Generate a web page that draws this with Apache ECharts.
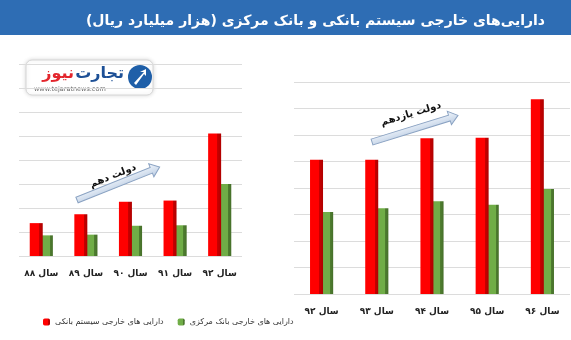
<!DOCTYPE html>
<html>
<head>
<meta charset="utf-8">
<script src="https://cdn.jsdelivr.net/npm/echarts@6/dist/echarts.min.js"></script>
<style>
html,body{margin:0;padding:0;background:#fff;}
#c{width:571px;height:340px;}
</style>
</head>
<body>
<div id="c" dir="rtl"></div>
<script>
// ---- data ----
const titleText = 'دارایی‌های خارجی سیستم بانکی و بانک مرکزی (هزار میلیارد ریال)';
const seriesBanking = 'دارایی های خارجی سیستم بانکی';
const seriesCentral = 'دارایی های خارجی بانک مرکزی';

// 10th government (دولت دهم)
const gov10Label = 'دولت دهم';
const gov10Years = ['سال ۸۸', 'سال ۸۹', 'سال ۹۰', 'سال ۹۱', 'سال ۹۲'];
const gov10Banking = [137, 174, 226, 231, 510];
const gov10Central = [86, 89, 126, 128, 300];

// 11th government (دولت یازدهم)
const gov11Label = 'دولت یازدهم';
const gov11Years = ['سال ۹۲', 'سال ۹۳', 'سال ۹۴', 'سال ۹۵', 'سال ۹۶'];
const gov11Banking = [507, 507, 588, 590, 735];
const gov11Central = [309, 324, 350, 337, 396];

const yMax = 800;
const yInterval = 100;

// ---- styles ----
const FONT = '"DejaVu Sans", "Noto Sans", sans-serif';
const redFill = new echarts.graphic.LinearGradient(0, 0, 1, 0, [
  {offset: 0, color: '#ff0000'}, {offset: 0.72, color: '#ff0000'},
  {offset: 0.72, color: '#c80000'}, {offset: 1, color: '#b00000'}]);
const greenFill = new echarts.graphic.LinearGradient(0, 0, 1, 0, [
  {offset: 0, color: '#70ad47'}, {offset: 0.75, color: '#70ad47'},
  {offset: 0.75, color: '#4f7f30'}, {offset: 1, color: '#466f2a'}]);

function xAxisFor(gridIndex, data) {
  return {
    type: 'category', gridIndex, data,
    axisLine: {show: false}, axisTick: {show: false},
    axisLabel: {interval: 0, color: '#222', fontSize: 9, fontWeight: 'bold', fontFamily: FONT, margin: 13}
  };
}
function yAxisFor(gridIndex) {
  return {
    type: 'value', gridIndex, min: 0, max: yMax, interval: yInterval,
    axisLabel: {show: false}, axisLine: {show: false}, axisTick: {show: false},
    splitLine: {lineStyle: {color: '#dcdcdc', width: 1}}
  };
}
function bars(name, data, idx, fill, z) {
  return {
    name, type: 'bar', data, xAxisIndex: idx, yAxisIndex: idx,
    barWidth: 13, barGap: '-22%', z,
    itemStyle: {color: fill},
    emphasis: {disabled: true}
  };
}

function arrow(x, y, len, rot) {
  return {
    type: 'polygon', x, y, rotation: rot, z: 20,
    shape: {points: [[0, -3], [len - 9, -3], [len - 9, -7], [len, 0], [len - 9, 7], [len - 9, 3], [0, 3]]},
    style: {
      fill: new echarts.graphic.LinearGradient(0, 0, 0, 1, [
        {offset: 0, color: '#f4f8fd'}, {offset: 1, color: '#b9cbe2'}]),
      stroke: '#8aa2c2', lineWidth: 1
    }
  };
}

const chart = echarts.init(document.getElementById('c'), null, {renderer: 'canvas'});
chart.setOption({
  animation: false,
  backgroundColor: '#ffffff',
  title: {
    text: titleText, right: 21, top: 9, z: 10,
    textStyle: {color: '#ffffff', fontSize: 14, fontWeight: 'bold', fontFamily: FONT}
  },
  legend: {
    left: 38, bottom: 9, itemWidth: 7, itemHeight: 7, itemGap: 14,
    data: [seriesBanking, seriesCentral],
    textStyle: {fontSize: 8, color: '#333', fontFamily: FONT}
  },
  grid: [
    {left: 19, width: 223, top: 64, height: 192},
    {left: 294, right: 1, top: 82, height: 212}
  ],
  xAxis: [xAxisFor(0, gov10Years), xAxisFor(1, gov11Years)],
  yAxis: [yAxisFor(0), yAxisFor(1)],
  series: [
    bars(seriesBanking, gov10Banking, 0, redFill, 3),
    bars(seriesCentral, gov10Central, 0, greenFill, 2),
    bars(seriesBanking, gov11Banking, 1, redFill, 3),
    bars(seriesCentral, gov11Central, 1, greenFill, 2)
  ],
  graphic: [
    {type: 'rect', x: 0, y: 0, z: 0, shape: {width: 571, height: 35}, style: {fill: '#2e6db4'}},
    // logo
    {
      type: 'group', x: 26, y: 60, z: 30, children: [
        {type: 'rect', shape: {x: 0, y: 0, width: 127, height: 35, r: 6},
         style: {fill: '#fff', stroke: '#d6d6d6', lineWidth: 1, shadowBlur: 4, shadowColor: 'rgba(0,0,0,0.15)'}},
        {type: 'text', x: 98, y: 14, style: {text: 'تجارت', fill: '#1d5096', font: 'bold 16px ' + FONT, align: 'right', verticalAlign: 'middle'}},
        {type: 'text', x: 48, y: 14, style: {text: 'نیوز', fill: '#e3262d', font: 'bold 16px ' + FONT, align: 'right', verticalAlign: 'middle'}},
        {type: 'text', x: 8, y: 29, style: {text: 'www.tejaratnews.com', fill: '#666', font: '6.5px ' + FONT, align: 'left', verticalAlign: 'middle'}},
        {type: 'circle', shape: {cx: 114, cy: 17, r: 12}, style: {fill: '#1f5fa8'}},
        {type: 'polygon', shape: {points: [[108, 23], [118, 12], [114, 12], [120, 9], [120, 16], [118, 14], [110, 25]]}, style: {fill: '#fff'}}
      ]
    },
    arrow(77, 200, 89, 0.38),
    {type: 'text', x: 113, y: 176, rotation: 0.38, z: 20,
     style: {text: gov10Label, fill: '#111', font: 'bold 10px ' + FONT, align: 'center', verticalAlign: 'middle'}},
    arrow(372, 142, 90, 0.30),
    {type: 'text', x: 411, y: 114, rotation: 0.29, z: 20,
     style: {text: gov11Label, fill: '#111', font: 'bold 10px ' + FONT, align: 'center', verticalAlign: 'middle'}}
  ]
});
</script>
</body>
</html>
